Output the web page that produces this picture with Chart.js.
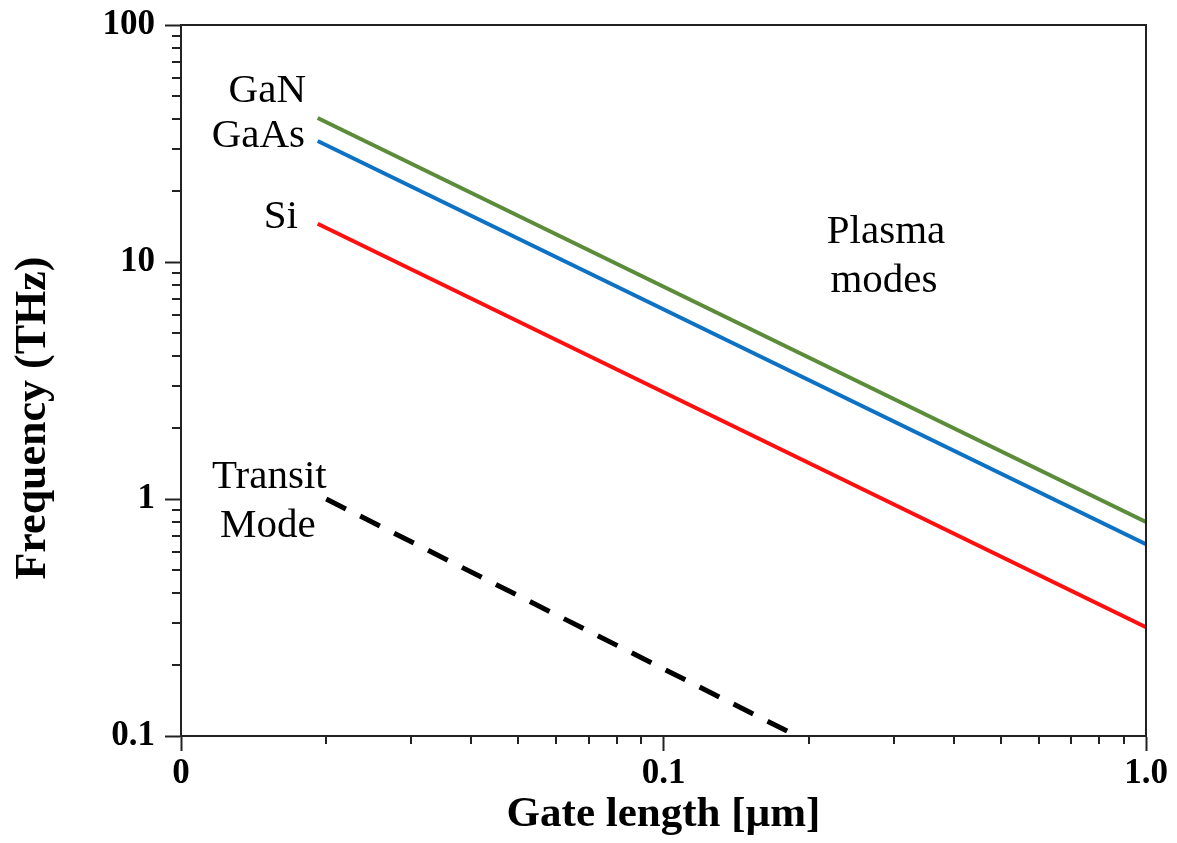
<!DOCTYPE html>
<html>
<head>
<meta charset="utf-8">
<script src="https://cdn.jsdelivr.net/npm/chart.js@4.4.1/dist/chart.umd.min.js"></script>
<style>
  html, body { margin: 0; padding: 0; background: #fff; }
  canvas { display: block; }
</style>
</head>
<body>
<canvas id="c" width="1177" height="843"></canvas>
<script>
// ---- data ----
const plasmaLength = [0.0192, 1.0];        // gate length (µm)
const ganFreq      = [40.5, 0.80];         // THz
const gaasFreq     = [32.4, 0.645];
const siFreq       = [14.5, 0.288];
const transitLength = [0.02, 0.189];
const transitFreq   = [1.0, 0.1];

const xTickValues = [0.01,0.02,0.03,0.04,0.05,0.06,0.07,0.08,0.09,
                     0.1,0.2,0.3,0.4,0.5,0.6,0.7,0.8,0.9,1];
const xMajorValues = [0.01, 0.1, 1];
const xMajorLabels = ['0', '0.1', '1.0'];

const yTickValues = [0.1,0.2,0.3,0.4,0.5,0.6,0.7,0.8,0.9,
                     1,2,3,4,5,6,7,8,9,
                     10,20,30,40,50,60,70,80,90,100];
const yMajorValues = [0.1, 1, 10, 100];
const yMajorLabels = ['0.1', '1', '10', '100'];

const seriesNames = ['GaN', 'GaAs', 'Si', 'Transit Mode'];

function pts(xs, ys) { return xs.map((x, i) => ({x: x, y: ys[i]})); }

const SERIF = "'Liberation Serif', 'Times New Roman', serif";
const AXIS = '#222';

const minorTicks = {
  id: 'minorTicks',
  afterDraw(chart) {
    const c = chart.ctx;
    const xs = chart.scales.x, ys = chart.scales.y;
    const a = chart.chartArea;
    c.save();
    c.strokeStyle = AXIS;
    c.lineWidth = 2;
    c.beginPath();
    xTickValues.forEach(v => {
      if (xMajorValues.includes(v)) return;
      const p = Math.round(xs.getPixelForValue(v));
      c.moveTo(p, a.bottom); c.lineTo(p, a.bottom + 8);
    });
    yTickValues.forEach(v => {
      if (yMajorValues.includes(v)) return;
      const p = Math.round(ys.getPixelForValue(v));
      c.moveTo(a.left, p); c.lineTo(a.left - 9, p);
    });
    // top and right frame
    c.moveTo(a.left, a.top); c.lineTo(a.right, a.top); c.lineTo(a.right, a.bottom);
    c.stroke();
    c.restore();
  }
};

const annotations = {
  id: 'annotations',
  afterDraw(chart) {
    const c = chart.ctx;
    const a = chart.chartArea;
    const L = a.left, T = 25;
    c.save();
    c.fillStyle = '#000';
    c.font = '41px ' + SERIF;
    c.textBaseline = 'alphabetic';
    c.textAlign = 'right';
    c.fillText('GaN', L + 125, T + 77);
    c.fillText('GaAs', L + 124, T + 122);
    c.fillText('Si', L + 117, T + 203);
    c.textAlign = 'center';
    c.fillText('Plasma', L + 705, T + 218);
    c.fillText('modes', L + 703, T + 267);
    c.textAlign = 'left';
    c.fillText('Transit', L + 31, T + 463);
    c.fillText('Mode', L + 39, T + 512);
    // y axis title
    c.font = 'bold 44px ' + SERIF;
    c.textAlign = 'center';
    c.textBaseline = 'alphabetic';
    c.translate(45, 418);
    c.rotate(-Math.PI / 2);
    c.fillText('Frequency (THz)', 0, 0);
    c.restore();
  }
};

new Chart(document.getElementById('c'), {
  type: 'scatter',
  data: {
    datasets: [
      { label: seriesNames[0], data: pts(plasmaLength, ganFreq),  borderColor: '#5B8C3A', borderWidth: 4 },
      { label: seriesNames[1], data: pts(plasmaLength, gaasFreq), borderColor: '#0E72C4', borderWidth: 4 },
      { label: seriesNames[2], data: pts(plasmaLength, siFreq),   borderColor: '#FF1010', borderWidth: 4 },
      { label: seriesNames[3], data: pts(transitLength, transitFreq), borderColor: '#000', borderWidth: 5, borderDash: [22, 16] }
    ].map(d => Object.assign(d, { showLine: true, pointRadius: 0, pointHoverRadius: 0, borderCapStyle: 'butt', tension: 0, fill: false }))
  },
  options: {
    responsive: false,
    animation: false,
    layout: { padding: { left: 0, top: 25, right: 31, bottom: 0 } },
    plugins: { legend: { display: false }, tooltip: { enabled: false } },
    scales: {
      x: {
        type: 'logarithmic', min: 0.01, max: 1,
        afterBuildTicks: s => { s.ticks = xTickValues.map(v => ({ value: v, major: xMajorValues.includes(v) })); },
        afterFit: s => { s.height = 107; },
        ticks: {
          autoSkip: false, maxRotation: 0, minRotation: 0, padding: 5, color: '#000',
          font: { family: SERIF, size: 35, weight: 'bold', lineHeight: 1 },
          callback: v => { const i = xMajorValues.indexOf(v); return i >= 0 ? xMajorLabels[i] : ''; }
        },
        grid: { drawOnChartArea: false, drawTicks: true, tickLength: 15, tickWidth: 2,
                tickColor: ctx => (ctx.tick && ctx.tick.major) ? AXIS : 'rgba(0,0,0,0)' },
        border: { display: true, color: AXIS, width: 2 },
        title: { display: true, text: 'Gate length [µm]', color: '#000',
                 font: { family: SERIF, size: 43, weight: 'bold' }, padding: { top: 0, bottom: 2 } }
      },
      y: {
        type: 'logarithmic', min: 0.1, max: 100,
        afterBuildTicks: s => { s.ticks = yTickValues.map(v => ({ value: v, major: yMajorValues.includes(v) })); },
        afterFit: s => { s.width = 181; },
        ticks: {
          autoSkip: false, padding: 10, color: '#000',
          font: { family: SERIF, size: 35, weight: 'bold', lineHeight: 0.8 },
          callback: v => { const i = yMajorValues.indexOf(v); return i >= 0 ? yMajorLabels[i] : ''; }
        },
        grid: { drawOnChartArea: false, drawTicks: true, tickLength: 16, tickWidth: 2,
                tickColor: ctx => (ctx.tick && ctx.tick.major) ? AXIS : 'rgba(0,0,0,0)' },
        border: { display: true, color: AXIS, width: 2 }
      }
    }
  },
  plugins: [minorTicks, annotations]
});
</script>
</body>
</html>
